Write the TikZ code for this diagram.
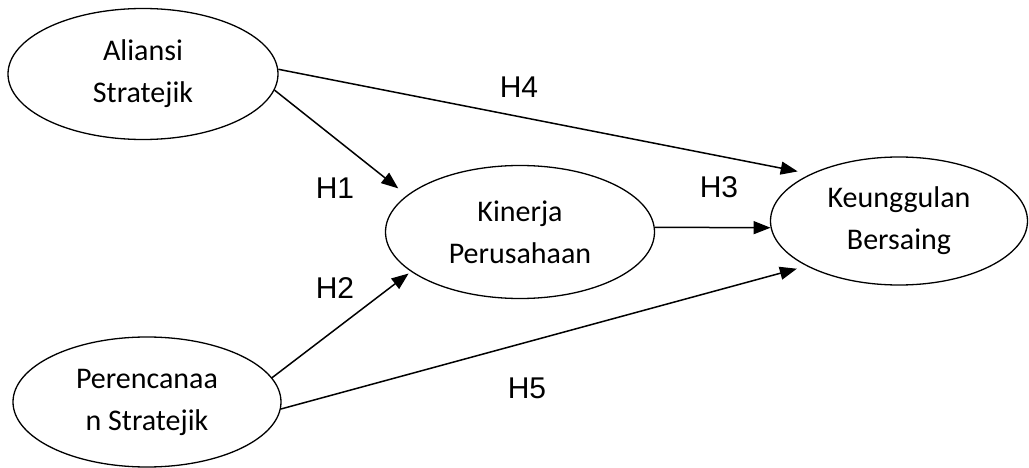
\documentclass[tikz,border=0pt]{standalone}
\usepackage{fontspec}
\setmainfont{Carlito}
\newfontfamily\hfont{Liberation Sans}
\usetikzlibrary{shapes.geometric,arrows.meta}
\begin{document}
\begin{tikzpicture}[x=1pt,y=-1pt,
  ell/.style={draw,ellipse,line width=1.3pt,inner sep=0pt,align=center,
    font=\fontsize{30}{42}\selectfont},
  conn/.style={line width=1.5pt,-{Triangle[length=17pt,width=13pt]}},
  hlab/.style={font=\hfont\fontsize{30}{36}\selectfont,inner sep=0pt}]
\useasboundingbox (0,0) rectangle (1029,468);
\node[ell,minimum width=270pt,minimum height=131pt] (A) at (143,74) {Aliansi\\Stratejik};
\node[ell,minimum width=269pt,minimum height=133pt] (K) at (520,232) {Kinerja\\Perusahaan};
\node[ell,minimum width=257pt,minimum height=128pt] (B) at (899,221) {Keunggulan\\Bersaing};
\node[ell,minimum width=268pt,minimum height=130pt] (P) at (147,402) {Perencanaa\\n Stratejik};
\draw[conn,shorten >=13pt] (A.2) -- (B.152);
\draw[conn,shorten >=11pt] (A.-7) -- (K.162);
\draw[conn,shorten >=3pt] (P.11) -- (K.200);
\draw[conn] (K.2) -- (B.183);
\draw[conn,shorten >=10pt] (P.-3) -- (B.206);
\node[hlab] (h4) at (519,87) {H4};
\node[hlab] (h1) at (335,188) {H1};
\node[hlab] (h2) at (335,288) {H2};
\node[hlab] (h3) at (719,187) {H3};
\node[hlab] (h5) at (527,388) {H5};
\end{tikzpicture}
\end{document}
